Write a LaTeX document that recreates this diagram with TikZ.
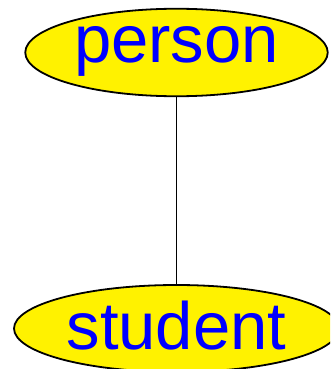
\documentclass[tikz,border=0pt]{standalone}
\usepackage{fontspec}
\setmainfont{Liberation Sans}
\usetikzlibrary{shapes.geometric}
\definecolor{nodefill}{RGB}{255,242,0}
\definecolor{labelblue}{RGB}{0,0,255}
\begin{document}
\begin{tikzpicture}[x=1pt,y=-1pt,
  ellbox/.style={ellipse, draw=black, line width=1.8pt, fill=nodefill, inner sep=0pt},
  lbl/.style={anchor=base, text=labelblue, font=\fontsize{67}{80}\selectfont, inner sep=0pt}]
\useasboundingbox (0,0) rectangle (330,369);
\clip (0,0) rectangle (330,369);
\node[ellbox, minimum width=302.5pt, minimum height=87.5pt] (person) at (176.5,52.5) {};
\node[ellbox, minimum width=325pt, minimum height=87pt] (student) at (176.5,328.5) {};
\node[lbl] (personlbl) at (176.5,63) {person};
\node[lbl] (studentlbl) at (176.5,349.5) {student};
\draw[line width=1pt] (person.south) -- (student.north);
\end{tikzpicture}
\end{document}
